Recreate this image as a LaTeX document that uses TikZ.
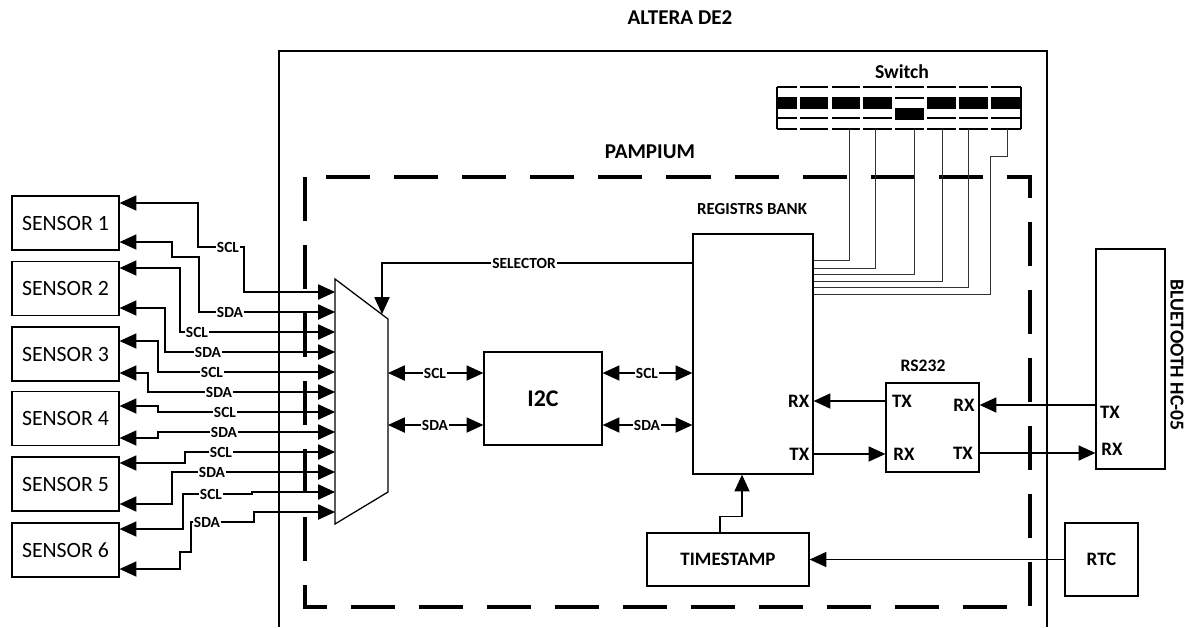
\documentclass[tikz,border=0pt]{standalone}
\usepackage{fontspec}
\setmainfont{Carlito}
\usepackage{tikz}
\usetikzlibrary{arrows.meta}
\usetikzlibrary{calc}

\tikzset{
    blk/.style={draw, line width=0.9pt, inner sep=0pt},
    sensor/.style={blk, minimum width=2.675cm, minimum height=1.35cm, font=\fontsize{15.5}{17}\selectfont},
    arr/.style={-{Triangle[length=0.42cm,width=0.38cm]}, line width=0.8pt},
    wire/.style={line width=0.7pt, black!80},
    sig/.style={font=\bfseries\fontsize{11}{12}\selectfont, inner sep=0.6pt},
    port/.style={font=\bfseries\fontsize{13.5}{15}\selectfont, inner sep=1pt},
    heading/.style={font=\bfseries\fontsize{15}{17}\selectfont},
}

\begin{document}
\begin{tikzpicture}[x=0.025cm,y=-0.025cm]
            \useasboundingbox (0,0) rectangle (1184,627);

            \coordinate (mTL) at (335,279);
            \coordinate (mTR) at (388,319);
            \coordinate (mBR) at (388,492);
            \coordinate (mBL) at (335,524);
            \coordinate (sel) at (382,314);
            \foreach \i in {0,...,11}{
                \coordinate (m\i) at (335,{292+20*\i});
            }

            \draw[line width=0.8pt] (279,627) -- (279,51) -- (1047,51) -- (1047,627);
            \draw[line width=2.2pt, dash pattern=on 1.1cm off 0.6cm] (305,177) rectangle (1030,607);

            \node[heading] (altera) at (680,18) {ALTERA DE2};
            \node[heading] (pampium) at (650,152) {PAMPIUM};
            \node[font=\bfseries\fontsize{14}{16}\selectfont] (swname) at (902,72) {Switch};
            \node[font=\bfseries\fontsize{12}{14}\selectfont] (bankname) at (752,209) {REGISTRS BANK};
            \node[font=\bfseries\fontsize{12.5}{14}\selectfont] (rsname) at (923,366) {RS232};
            \node[heading, font=\bfseries\fontsize{14}{16}\selectfont, rotate=-90] (btname) at (1177,355) {BLUETOOTH HC-05};

            \foreach \i/\y in {1/223,2/288.5,3/354,4/418.5,5/484,6/550}{
                \node[sensor] (s\i) at (65.5,\y) {SENSOR \i};
            }

            \node[blk, minimum width=3cm, minimum height=6cm] (bank) at (753,354) {};
            \node[blk, minimum width=2.95cm, minimum height=2.325cm, font=\bfseries\fontsize{17}{19}\selectfont] (i2c) at (543,398.5) {I2C};
            \node[blk, minimum width=2.325cm, minimum height=2.225cm] (rs) at (932.5,427.5) {};
            \node[blk, minimum width=1.725cm, minimum height=5.5cm] (bt) at (1130.5,359) {};
            \node[blk, port, minimum width=4.05cm, minimum height=1.325cm] (ts) at (728,559.5) {TIMESTAMP};
            \node[blk, port, minimum width=1.825cm, minimum height=1.825cm] (rtc) at (1101.5,559.5) {RTC};

            \node[port, anchor=east] (bankRX) at (811,401) {RX};
            \node[port, anchor=east] (bankTX) at (811,454) {TX};
            \node[port] (rsTXl) at (902,401) {TX};
            \node[port] (rsRXr) at (964,405) {RX};
            \node[port] (rsRXl) at (904,454) {RX};
            \node[port] (rsTXr) at (963,453) {TX};
            \node[port] (btTX) at (1110,412) {TX};
            \node[port] (btRX) at (1112,449) {RX};

            \draw[line width=0.9pt] (mTL) -- (mTR) -- (mBR) -- (mBL) -- cycle;

            \draw[line width=0.8pt] (777,87) -- (777,129);
            \draw[line width=0.8pt] (1021,87) -- (1021,129);
            \foreach \a/\b in {777/797,800/828,832/860,863/892,895/924,927/956,959/988,991/1021}{
                \draw[line width=0.8pt] (\a,87) -- (\b,87);
                \draw[line width=0.8pt] (\a,129) -- (\b,129);
            }
            \foreach \a/\b in {777/797,800/828,832/860,863/892,927/956,959/988,991/1021}{
                \fill (\a,97) rectangle (\b,109);
                \draw[line width=0.8pt] (\a,118) -- (\b,118);
            }
            \draw[line width=0.8pt] (895,98) -- (924,98);
            \fill (895,108) rectangle (924,120);

            \foreach \x/\y in {849/260,875/268,914/274,942/281,968/287}{
                \draw[wire] (\x,129) |- (bank.east |- 0,\y);
            }
            \draw[wire] (1007,129) -- (1007,156) -| (990,294) -- (bank.east |- 0,294);

            \node[sig] (slc) at (524,263) {SELECTOR};
            \draw[arr] (slc.west) -| (sel);
            \draw[line width=0.8pt] (slc.east) -- (slc -| bank.west);

            \node[sig] (cl1) at (435,373) {SCL};
            \node[sig] (da1) at (435,425) {SDA};
            \node[sig] (cl2) at (647,373) {SCL};
            \node[sig] (da2) at (647,425) {SDA};
            \draw[arr] (cl1.west) -- (cl1 -| mTR);
            \draw[arr] (cl1.east) -- (cl1 -| i2c.west);
            \draw[arr] (da1.west) -- (da1 -| mTR);
            \draw[arr] (da1.east) -- (da1 -| i2c.west);
            \draw[arr] (cl2.west) -- (cl2 -| i2c.east);
            \draw[arr] (cl2.east) -- (cl2 -| bank.west);
            \draw[arr] (da2.west) -- (da2 -| i2c.east);
            \draw[arr] (da2.east) -- (da2 -| bank.west);

            \draw[arr] (rsTXl -| rs.west) -- (rsTXl -| bank.east);
            \draw[arr] (bankTX -| bank.east) -- (bankTX -| rs.west);
            \draw[arr] (rsRXr -| bt.west) -- (rsRXr -| rs.east);
            \draw[arr] (rsTXr -| rs.east) -- (rsTXr -| bt.west);

            \draw[arr] (rtc.west) -- (ts.east);
            \draw[arr] ([xshift=-0.2cm]ts.north) -- ++(0,-16) -| ([xshift=-0.275cm]bank.south);

            \foreach \n/\t/\x/\y in {1/SCL/228/247,2/SDA/230/312,3/SCL/197/332,4/SDA/208/352,
                                     5/SCL/212/372,6/SDA/219/392,7/SCL/225/412,8/SDA/224/432,
                                     9/SCL/221/452,10/SDA/212/472,11/SCL/211/494,12/SDA/207/522}{
                \node[sig] (w\n) at (\x,\y) {\t};
            }

            \draw[arr] (w1.west) -- (198,247) |- (s1.east |- 0,203);
            \draw[arr] (w1.east) -- (244,247) |- (m0);
            \draw[arr] (w2.west) -- (199,312) |- (172,257) |- (s1.east |- 0,242);
            \draw[arr] (w2.east) -- (m1);
            \draw[arr] (w3.west) -- (180,332) |- (s2.east |- 0,268);
            \draw[arr] (w3.east) -- (m2);
            \draw[arr] (w4.west) -- (165,352) |- (s2.east |- 0,308);
            \draw[arr] (w4.east) -- (m3);
            \draw[arr] (w5.west) -- (158,372) |- (s3.east |- 0,341);
            \draw[arr] (w5.east) -- (m4);
            \draw[arr] (w6.west) -- (148,392) |- (s3.east |- 0,373);
            \draw[arr] (w6.east) -- (m5);
            \draw[arr] (w7.west) -- (158,412) |- (s4.east |- 0,406);
            \draw[arr] (w7.east) -- (m6);
            \draw[arr] (w8.west) -- (158,432) |- (s4.east |- 0,438);
            \draw[arr] (w8.east) -- (m7);
            \draw[arr] (w9.west) -- (185,452) |- (s5.east |- 0,463);
            \draw[arr] (w9.east) -- (m8);
            \draw[arr] (w10.west) -- (172,472) |- (s5.east |- 0,504);
            \draw[arr] (w10.east) -- (m9);
            \draw[arr] (w11.west) -- (183,494) |- (s6.east |- 0,529);
            \draw[arr] (w11.east) -- (252,494) |- (m10);
            \draw[arr] (w12.west) -- (191,522) |- (180,552) |- (s6.east |- 0,569);
            \draw[arr] (w12.east) -- (254,522) |- (m11);
\end{tikzpicture}
\end{document}
